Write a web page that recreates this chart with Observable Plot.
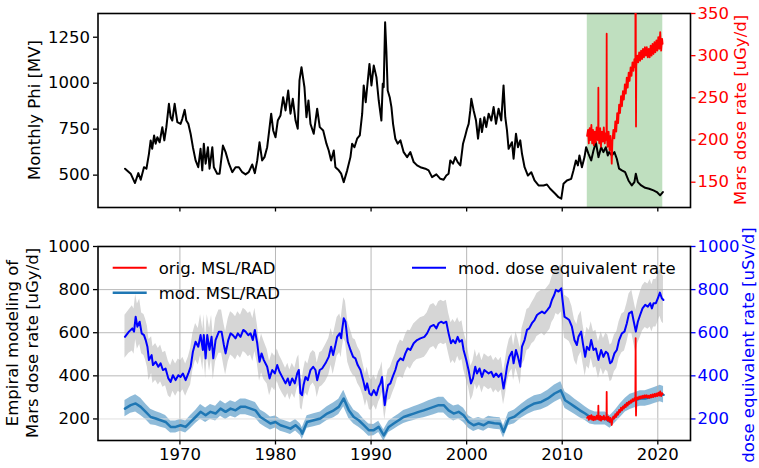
<!DOCTYPE html>
<html>
<head>
<meta charset="utf-8">
<script src="https://cdn.jsdelivr.net/npm/d3@7"></script>
<script src="https://cdn.jsdelivr.net/npm/@observablehq/plot@0.6"></script>
<style>
  body { margin: 0; background: white; }
  #chart { position: relative; width: 759px; height: 468px; font-family: "DejaVu Sans", sans-serif; }
  #chart svg { position: absolute; left: 0; top: 0; }
</style>
</head>
<body>
<div id="chart"></div>
<script>
// ---- Monthly heliospheric modulation potential Phi [MV]
const phiYears = [
  1964.26,1964.85,1965.30,1965.65,1965.90,1966.24,1966.50,1966.76,1966.94,1967.10,
  1967.30,1967.46,1967.64,1967.88,1968.16,1968.37,1968.58,1968.85,1969.03,1969.20,
  1969.45,1969.73,1970.07,1970.25,1970.50,1970.67,1970.88,1971.12,1971.36,1971.64,
  1971.92,1972.16,1972.34,1972.50,1972.69,1972.93,1973.10,1973.39,1973.55,1973.90,
  1974.15,1974.50,1974.78,1975.13,1975.48,1975.82,1976.17,1976.52,1976.87,1977.20,
  1977.57,1977.84,1978.09,1978.33,1978.60,1978.85,1979.13,1979.30,1979.55,1979.76,
  1980.00,1980.24,1980.52,1980.80,1981.05,1981.33,1981.57,1981.81,1982.10,1982.33,
  1982.51,1982.72,1982.90,1983.03,1983.24,1983.45,1983.66,1984.00,1984.36,1984.63,
  1984.99,1985.33,1985.57,1985.82,1986.10,1986.27,1986.62,1986.87,1987.14,1987.50,
  1987.84,1988.02,1988.26,1988.54,1988.82,1989.07,1989.23,1989.44,1989.59,1989.83,
  1990.04,1990.28,1990.56,1990.80,1991.08,1991.22,1991.32,1991.47,1991.60,1991.74,
  1991.95,1992.13,1992.30,1992.54,1992.78,1993.07,1993.41,1993.77,1994.11,1994.46,
  1994.81,1995.16,1995.68,1996.02,1996.38,1996.83,1997.25,1997.59,1997.87,1998.11,
  1998.29,1998.57,1998.81,1999.06,1999.34,1999.62,1999.86,2000.04,2000.21,2000.38,
  2000.49,2000.73,2000.98,2001.19,2001.43,2001.60,2001.85,2002.05,2002.30,2002.58,
  2002.82,2003.07,2003.34,2003.62,2003.86,2004.04,2004.22,2004.39,2004.74,2004.91,
  2005.16,2005.37,2005.61,2005.79,2006.06,2006.41,2006.76,2007.10,2007.52,2008.04,
  2008.40,2008.74,2009.27,2009.61,2009.90,2010.13,2010.49,2010.94,2011.18,2011.43,
  2011.64,2011.80,2012.06,2012.33,2012.50,2012.75,2013.03,2013.27,2013.52,2013.79,
  2014.07,2014.31,2014.56,2014.77,2014.91,2015.19,2015.46,2015.71,2015.95,2016.24,
  2016.58,2016.93,2017.28,2017.55,2017.70,2017.91,2018.26,2018.68,2019.09,2019.55,
  2019.90,2020.24,2020.53
];
const phiValues = [
  535,508,457,511,475,543,535,616,689,643,
  716,671,706,679,761,689,761,888,815,797,
  888,788,779,806,855,797,779,725,652,580,
  543,643,526,671,562,652,535,652,543,508,
  508,661,625,562,516,543,543,516,504,516,
  558,511,580,679,580,598,652,725,834,743,
  706,797,824,924,852,960,834,915,797,752,
  1015,1087,1024,978,815,906,779,725,861,761,
  743,671,634,580,634,543,526,508,462,526,
  598,671,652,698,716,834,988,897,978,1105,
  988,1096,1033,906,797,997,978,1331,1178,960,
  924,870,779,698,671,689,625,598,625,571,
  553,543,535,526,489,504,480,475,498,508,
  580,562,598,571,553,671,716,752,779,852,
  915,852,797,698,806,734,815,761,834,797,
  870,779,861,797,988,815,743,643,679,589,
  725,652,689,616,543,498,516,471,444,444,
  449,426,399,380,372,453,471,480,526,580,
  553,607,543,598,652,616,580,634,679,598,
  652,625,652,607,625,607,625,589,535,526,
  516,471,444,462,508,462,444,431,426,417,
  408,390,408
];

// ---- MSL/RAD measured dose rate on Mars [uGy/d]
const redYears = [
  2012.60,2012.70,2012.78,2012.87,2012.95,2013.05,2013.13,2013.22,2013.30,2013.40,
  2013.50,2013.60,2013.70,2013.76,2013.78,2013.80,2013.88,2013.97,2014.05,2014.15,
  2014.25,2014.35,2014.45,2014.55,2014.63,2014.65,2014.67,2014.75,2014.85,2014.95,
  2015.05,2015.15,2015.18,2015.25,2015.35,2015.45,2015.55,2015.65,2015.75,2015.85,
  2015.95,2016.05,2016.15,2016.25,2016.35,2016.45,2016.55,2016.65,2016.75,2016.85,
  2016.95,2017.05,2017.15,2017.25,2017.35,2017.45,2017.55,2017.65,2017.68,2017.70,
  2017.72,2017.75,2017.85,2017.95,2018.05,2018.15,2018.25,2018.35,2018.45,2018.55,
  2018.65,2018.75,2018.85,2018.95,2019.05,2019.15,2019.25,2019.35,2019.45,2019.55,
  2019.65,2019.75,2019.85,2019.95,2020.05,2020.15,2020.25,2020.35,2020.45,2020.50
];
const redValues = [
  205,212,196,214,200,218,196,212,194,210,
  197,215,200,214,262,205,196,214,192,210,
  198,215,196,208,200,326,204,192,210,188,
  205,180,172,198,212,202,222,210,232,220,
  242,232,252,240,258,248,266,255,274,262,
  280,270,286,276,292,282,296,286,575,290,
  216,288,300,292,304,294,306,296,308,298,
  310,300,310,298,308,298,312,300,314,302,
  316,304,318,306,322,308,328,306,320,314
];

// ---- modelled dose equivalent rate [uSv/d]
const doseEqYears = [
  1964.25,1964.67,1965.02,1965.20,1965.37,1965.55,1965.79,1966.00,1966.24,1966.42,
  1966.60,1966.76,1967.04,1967.18,1967.46,1967.74,1967.98,1968.22,1968.50,1968.79,
  1969.03,1969.27,1969.55,1969.83,1970.07,1970.31,1970.60,1970.88,1971.12,1971.36,
  1971.64,1971.92,1972.16,1972.40,1972.50,1972.69,1972.86,1973.10,1973.31,1973.49,
  1973.73,1974.08,1974.36,1974.60,1974.78,1975.06,1975.30,1975.54,1975.82,1976.06,
  1976.34,1976.63,1976.87,1977.15,1977.39,1977.63,1977.84,1978.09,1978.33,1978.54,
  1978.78,1979.13,1979.38,1979.66,1979.93,1980.18,1980.42,1980.70,1981.05,1981.29,
  1981.50,1981.75,1982.02,1982.27,1982.44,1982.61,1982.78,1982.95,1983.14,1983.38,
  1983.66,1983.94,1984.18,1984.36,1984.63,1984.88,1985.23,1985.57,1985.82,1986.03,
  1986.27,1986.45,1986.72,1986.87,1986.97,1987.14,1987.32,1987.56,1987.84,1988.12,
  1988.36,1988.60,1988.89,1989.17,1989.41,1989.59,1989.83,1990.04,1990.28,1990.56,
  1990.80,1990.98,1991.15,1991.26,1991.43,1991.60,1991.78,1992.02,1992.26,1992.54,
  1992.78,1993.07,1993.35,1993.59,1993.83,1994.11,1994.46,1994.81,1995.16,1995.58,
  1995.86,1996.20,1996.55,1996.83,1997.07,1997.32,1997.59,1997.87,1998.11,1998.36,
  1998.57,1998.81,1999.06,1999.26,1999.51,1999.68,1999.96,2000.20,2000.45,2000.66,
  2000.90,2001.08,2001.35,2001.60,2001.85,2002.30,2002.58,2002.82,2003.07,2003.34,
  2003.62,2003.86,2004.04,2004.22,2004.46,2004.74,2004.91,2005.16,2005.37,2005.61,
  2005.79,2006.06,2006.31,2006.55,2006.83,2007.10,2007.36,2007.60,2007.88,2008.15,
  2008.43,2008.71,2008.92,2009.16,2009.34,2009.61,2009.90,2010.03,2010.24,2010.49,
  2010.73,2011.01,2011.28,2011.53,2011.70,2011.98,2012.16,2012.40,2012.58,2012.82,
  2013.03,2013.27,2013.52,2013.79,2014.07,2014.31,2014.56,2014.77,2015.01,2015.19,
  2015.46,2015.71,2015.95,2016.24,2016.51,2016.76,2016.99,2017.28,2017.45,2017.70,
  2017.91,2018.15,2018.40,2018.68,2018.96,2019.20,2019.38,2019.55,2019.80,2020.01,
  2020.22,2020.42,2020.59
];
const doseEqValues = [
  581,605,620,605,674,628,651,597,589,566,
  535,473,496,450,465,442,458,427,434,388,
  372,403,380,403,395,411,380,411,442,512,
  558,535,589,520,589,481,589,520,581,481,
  566,605,605,543,504,566,597,589,574,597,
  581,613,605,589,597,566,613,551,465,504,
  473,442,388,427,411,450,419,395,365,388,
  357,388,365,411,427,320,310,360,395,380,
  427,442,427,380,427,434,458,488,535,496,
  543,581,597,574,613,667,651,558,520,488,
  481,450,427,380,334,365,318,310,334,310,
  349,365,395,334,264,318,357,365,395,427,
  465,481,473,504,527,520,551,566,574,581,
  597,628,636,620,644,651,644,651,597,551,
  566,551,581,558,566,520,473,427,365,388,
  442,411,434,395,427,411,419,395,411,395,
  411,341,388,442,488,512,458,520,488,442,
  535,566,613,620,644,659,682,690,698,690,
  705,721,752,775,799,791,806,752,674,667,
  659,628,566,543,581,605,551,488,535,520,
  566,520,527,473,520,488,512,504,458,465,
  504,520,566,597,605,644,690,698,659,605,
  651,682,713,729,721,737,713,737,737,760,
  786,760,752
];
// half-width of the model uncertainty, one value per year 1964..2020 [uSv/d]
const doseEqSpread = [
  100,105,95,85,80,75,75,85,95,100,
  100,100,100,100,90,80,75,70,70,75,
  80,85,90,95,85,75,70,70,75,85,
  90,95,100,100,95,90,80,75,75,75,
  80,85,95,100,105,110,100,95,90,85,
  85,85,90,100,105,110,110
];

// ---- modelled MSL/RAD dose rate [uGy/d]
const doseModYears = [
  1964.25,1964.85,1965.37,1965.90,1966.42,1966.94,1967.46,1967.98,1968.50,1969.03,
  1969.55,1970.07,1970.60,1971.12,1971.64,1972.16,1972.69,1973.20,1973.73,1974.25,
  1974.78,1975.30,1975.82,1976.34,1976.87,1977.39,1977.90,1978.42,1978.95,1979.47,
  1980.00,1980.52,1981.05,1981.57,1982.10,1982.61,1982.80,1983.31,1984.00,1984.70,
  1985.40,1986.10,1986.62,1987.14,1987.67,1988.19,1988.71,1989.24,1989.76,1990.28,
  1990.80,1991.33,1991.85,1992.37,1992.89,1993.41,1993.94,1994.46,1994.98,1995.50,
  1996.03,1996.55,1997.07,1997.60,1998.11,1998.64,1999.16,1999.68,2000.20,2000.73,
  2001.25,2001.78,2002.30,2002.90,2003.50,2003.86,2004.39,2005.00,2005.70,2006.40,
  2007.10,2007.80,2008.50,2009.20,2009.85,2010.30,2010.82,2011.33,2011.85,2012.40,
  2012.90,2013.45,2013.97,2014.50,2015.00,2015.50,2016.10,2016.60,2017.10,2017.60,
  2018.15,2018.68,2019.20,2019.72,2020.25,2020.60
];
const doseModValues = [
  248,264,272,256,233,209,202,194,186,163,
  163,171,163,186,209,233,217,233,225,248,
  233,248,240,256,256,248,240,209,194,179,
  186,171,163,155,171,150,132,186,194,202,
  225,240,256,295,240,209,194,171,148,148,
  163,124,163,179,194,209,217,225,233,240,
  248,256,264,264,240,225,233,217,186,171,
  179,171,185,180,178,140,200,210,235,256,
  272,279,295,318,333,287,272,256,240,225,
  209,202,202,202,186,209,240,264,279,287,
  295,295,302,310,318,312
];
// half-width of the model uncertainty, one value per year 1964..2020 [uGy/d]
const doseModSpread = [
  38,40,36,32,30,28,28,30,34,34,
  36,36,37,36,33,30,28,27,27,29,
  30,32,35,38,32,28,26,26,28,30,
  32,34,36,37,35,33,29,28,28,28,
  30,32,34,36,38,40,38,35,32,30,
  30,29,32,35,36,37,38
];

// ---- MSL/RAD operation period, ticks and legend labels
const mslPeriod = [2012.62, 2020.52];
const yearTicks = [1970, 1980, 1990, 2000, 2010, 2020];
const phiTicks = [500, 750, 1000, 1250];
const marsTicks = [150, 200, 250, 300, 350];
const doseTicks = [200, 400, 600, 800, 1000];
const legendLabels = ["orig. MSL/RAD", "mod. MSL/RAD", "mod. dose equivalent rate"];

// ---- tables for the marks
const phiData = phiYears.map((t, i) => ({t, v: phiValues[i]}));
const redData = redYears.map((t, i) => ({t, v: redValues[i]}));
const eqData = doseEqYears.map((t, i) => {
  const s = doseEqSpread[Math.floor(t) - 1964];
  return {t, v: doseEqValues[i], lo: doseEqValues[i] - s, hi: doseEqValues[i] + s};
});
const modData = doseModYears.map((t, i) => {
  const s = doseModSpread[Math.floor(t) - 1964];
  return {t, v: doseModValues[i], lo: doseModValues[i] - s, hi: doseModValues[i] + s};
});

const W = 759, H = 468;
const FONT = "DejaVu Sans";
const FS = 16.5;
const xDomain = [1961.43, 2023.42];
const baseStyle = {background: "transparent", fontFamily: FONT, fontSize: FS + "px", overflow: "visible"};
const tick = {tickSize: 4.5, strokeWidth: 1.3, fontSize: FS, label: null};

// top panel: Phi (left axis)
const topMain = Plot.plot({
  width: W, height: H,
  marginLeft: 97.5, marginRight: 69, marginTop: 13, marginBottom: H - 207,
  x: {domain: xDomain},
  y: {domain: [324, 1379]},
  style: baseStyle,
  marks: [
    Plot.rect([mslPeriod], {x1: d => d[0], x2: d => d[1], fill: "#008000", fillOpacity: 0.25}),
    Plot.line(phiData, {x: "t", y: "v", stroke: "black", strokeWidth: 2}),
    Plot.axisY(phiTicks, {...tick, anchor: "left", tickPadding: 3.5, tickFormat: "d"}),
    Plot.axisX(yearTicks, {...tick, anchor: "bottom", tickFormat: () => ""}),
    Plot.frame({stroke: "black", strokeWidth: 1.6})
  ]
});

// top panel: measured dose rate (right axis)
const topRed = Plot.plot({
  width: W, height: H,
  marginLeft: 97.5, marginRight: 69, marginTop: 13, marginBottom: H - 207,
  x: {domain: xDomain, axis: null},
  y: {domain: [120, 350]},
  style: baseStyle,
  marks: [
    Plot.line(redData, {x: "t", y: "v", stroke: "#ff0000", strokeWidth: 1.8, clip: true}),
    Plot.axisY(marsTicks, {...tick, anchor: "right", tickPadding: 2.5, color: "#ff0000", tickFormat: "d"})
  ]
});

// bottom panel: empirical modelling
const bottom = Plot.plot({
  width: W, height: H,
  marginLeft: 97.5, marginRight: 69, marginTop: 246, marginBottom: H - 440,
  x: {domain: xDomain},
  y: {domain: [100, 1000]},
  style: baseStyle,
  marks: [
    Plot.areaY(eqData, {x: "t", y1: "lo", y2: "hi", fill: "#d6d6d6", clip: true}),
    Plot.areaY(modData, {x: "t", y1: "lo", y2: "hi", fill: "#1f77b4", fillOpacity: 0.5, clip: true}),
    Plot.gridX(yearTicks, {stroke: "#b0b0b0", strokeOpacity: 1, strokeWidth: 0.9}),
    Plot.gridY(doseTicks, {stroke: d => d === 200 ? "#dcdcdc" : "#b0b0b0", strokeOpacity: 1, strokeWidth: 0.9}),
    Plot.line(eqData, {x: "t", y: "v", stroke: "#0000ff", strokeWidth: 2}),
    Plot.line(modData, {x: "t", y: "v", stroke: "#1f77b4", strokeWidth: 2.5}),
    Plot.line(redData, {x: "t", y: "v", stroke: "#ff0000", strokeWidth: 1.8, clip: true}),
    Plot.axisY(doseTicks, {...tick, anchor: "left", tickPadding: 3.5, tickFormat: "d"}),
    Plot.axisY(doseTicks, {...tick, anchor: "right", tickPadding: 2.5, color: "#0000ff", tickFormat: "d"}),
    Plot.axisX(yearTicks, {...tick, anchor: "bottom", tickPadding: 3, tickFormat: "d"}),
    Plot.frame({stroke: "black", strokeWidth: 1.6})
  ]
});

// axis titles and legend
const ann = d3.create("svg")
  .attr("width", W).attr("height", H)
  .attr("font-family", FONT).attr("font-size", FS);

function vlabel(x, y, text, color) {
  ann.append("text")
    .attr("transform", `translate(${x},${y}) rotate(-90)`)
    .attr("text-anchor", "middle")
    .attr("fill", color)
    .text(text);
}
vlabel(40, 110, "Monthly Phi [MV]", "black");
vlabel(745.5, 110, "Mars dose rate [uGy/d]", "#ff0000");
vlabel(18, 343, "Empiral modeling of", "black");
vlabel(38, 343, "Mars dose rate [uGy/d]", "black");
vlabel(754, 345, "dose equivalent rate [uSv/d]", "#0000ff");

const legendItems = [
  {x: 112.7, y: 267.7, color: "#ff0000", w: 2, label: legendLabels[0]},
  {x: 112.7, y: 292.7, color: "#1f77b4", w: 2.5, label: legendLabels[1]},
  {x: 412, y: 267.7, color: "#0000ff", w: 2, label: legendLabels[2]}
];
for (const it of legendItems) {
  ann.append("line")
    .attr("x1", it.x).attr("x2", it.x + 34)
    .attr("y1", it.y).attr("y2", it.y)
    .attr("stroke", it.color).attr("stroke-width", it.w);
  ann.append("text")
    .attr("x", it.x + 46).attr("y", it.y).attr("dy", "0.36em")
    .attr("fill", "black")
    .text(it.label);
}

const chart = document.getElementById("chart");
chart.append(bottom, topMain, topRed, ann.node());
</script>
</body>
</html>
